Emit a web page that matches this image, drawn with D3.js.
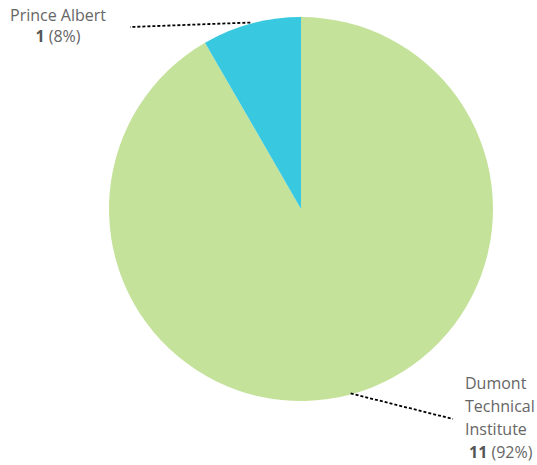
<!DOCTYPE html>
<html><head><meta charset="utf-8">
<script src="https://cdn.jsdelivr.net/npm/d3@7"></script>
<style>body{margin:0;background:#fff;}text{font-family:"Open Sans","Segoe UI",sans-serif;}</style>
</head><body>
<svg id="c" width="537" height="465"></svg>
<script>
const categories = ["Dumont Technical Institute", "Prince Albert"];
const values = [11, 1];
const percents = ["92%", "8%"];
const colors = ["#c5e29b", "#38c9e0"];

const svg = d3.select("#c");
const cx = 301, cy = 209, R = 192;
const g = svg.append("g").attr("transform", `translate(${cx},${cy})`);
const data = categories.map((c, i) => ({name: c, value: values[i], pct: percents[i], color: colors[i]}));
const pie = d3.pie().value(d => d.value).sort(null);
const arcs = pie(data);
const arc = d3.arc().innerRadius(0).outerRadius(R);
g.selectAll("path").data(arcs).enter().append("path")
  .attr("d", arc).attr("fill", d => d.data.color);

const labelEnds = [[453 - cx, 419 - cy], [130 - cx, 27 - cy]];
arcs.forEach((a, i) => {
  const m = (a.startAngle + a.endAngle) / 2;
  const x0 = R * Math.sin(m) - (i === 1 ? 1 : 0), y0 = -R * Math.cos(m) - 1;
  g.append("line").attr("x1", x0).attr("y1", y0)
    .attr("x2", labelEnds[i][0]).attr("y2", labelEnds[i][1])
    .attr("stroke", "#000").attr("stroke-width", 1.8).attr("stroke-dasharray", "3,2");
});

function label(x, y, lines, anchor, d, lh, lastDx) {
  const t = svg.append("text").attr("x", x).attr("y", y).attr("text-anchor", anchor)
    .attr("font-size", 16).attr("fill", "#666");
  lines.forEach((l, i) => {
    t.append("tspan").attr("x", x).attr("dy", i === 0 ? 0 : lh).text(l);
  });
  const last = t.append("tspan").attr("x", x + lastDx).attr("dy", lh);
  last.append("tspan").attr("font-weight", "bold").attr("fill", "#555").text(d.value);
  last.append("tspan").text(" (" + d.pct + ")");
  return t;
}
label(58, 21, ["Prince Albert"], "middle", data[1], 21, 0);
label(465, 389, ["Dumont", "Technical", "Institute"], "start", data[0], 23, 4);
</script>
</body></html>
